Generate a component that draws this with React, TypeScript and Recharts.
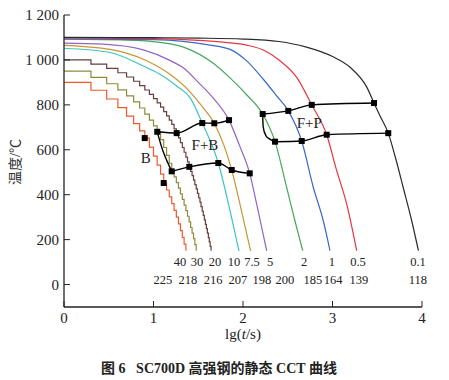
import React from 'react';
import { ComposedChart, Line, Scatter, XAxis, YAxis } from 'recharts';

// lg(t) of the 1 s sampling steps seen on the fast cooling curves
const stepLg = [
    0, 0.301, 0.477, 0.602, 0.699, 0.778, 0.845, 0.903, 0.954, 1.0, 1.041, 1.079, 1.114, 1.146, 1.176,
    1.204, 1.23, 1.255, 1.279, 1.301, 1.322, 1.342, 1.362, 1.38, 1.398, 1.415, 1.431, 1.447, 1.462, 1.477,
    1.491, 1.505, 1.519, 1.531, 1.544, 1.556, 1.568, 1.58, 1.591, 1.602, 1.613, 1.623, 1.633, 1.643,
];

// stepped curves (40, 30, 20 ℃/s)
const temp40 = [
    900, 865, 826, 788, 750, 716, 684, 652, 612, 572, 532, 492, 452, 421, 390, 360, 330, 300, 270, 240,
    210, 180, 150,
];
const temp30 = [
    950, 922, 894, 867, 840, 813, 786, 759, 732, 706, 680, 645, 610, 575, 540, 504, 479, 454, 429, 404,
    379, 354, 329, 304, 279, 254, 229, 204, 178, 150,
];
const temp20 = [
    1000, 981, 962, 943, 924, 905, 886, 866, 847, 828, 809, 790, 770, 751, 732, 713, 693, 674, 653, 632,
    610, 589, 567, 546, 524, 504, 485, 465, 445, 426, 406, 386, 367, 347, 327, 308, 288, 268, 249, 229,
    209, 190, 170, 150,
];

// smooth curves
const lg10 = [0, 0.514, 0.886, 1.073, 1.259, 1.408, 1.545, 1.724, 1.855, 1.955];
const temp10 = [1052, 1033, 973, 936, 884, 832, 719, 541, 329, 150];
const lg7_5 = [0, 0.514, 0.886, 1.184, 1.408, 1.55, 1.679, 1.874, 1.966, 2.085];
const temp7_5 = [1065, 1047, 1003, 936, 858, 790, 718, 510, 358, 150];
const lg5 = [0, 0.44, 0.886, 1.184, 1.35, 1.5, 1.668, 1.844, 1.96, 2.075, 2.153, 2.265];
const temp5 = [1075, 1070, 1045, 998, 960, 900, 830, 732, 620, 495, 358, 150];
const lg2 = [0, 0.7, 1.07, 1.35, 1.668, 1.855, 2.041, 2.22, 2.358, 2.488, 2.58, 2.667];
const temp2 = [1092, 1088, 1078, 1055, 985, 920, 845, 759, 636, 432, 284, 151];
const lg1 = [0, 1.0, 1.3, 1.6, 1.855, 2.041, 2.227, 2.376, 2.506, 2.656, 2.786, 2.897, 2.972];
const temp1 = [1094, 1090, 1084, 1068, 1047, 996, 914, 840, 773, 639, 432, 284, 151];
const lg0_5 = [0, 1.0, 1.5, 1.8, 2.04, 2.25, 2.413, 2.6, 2.768, 2.935, 3.047, 3.159, 3.27];
const temp0_5 = [1098, 1095, 1087, 1078, 1066, 1040, 996, 922, 800, 667, 507, 358, 151];
const lg0_1 = [0, 1.0, 1.5, 2.0, 2.4, 2.7, 3.0, 3.2, 3.38, 3.464, 3.53, 3.623, 3.7, 3.79, 3.885, 3.96];
const temp0_1 = [1100, 1099, 1097, 1093, 1082, 1058, 1015, 966, 881, 808, 751, 674, 570, 432, 284, 151];

// transformation lines
const fbTopLg = [1.042, 1.259, 1.545, 1.679, 1.844];
const fbTopT = [680, 674, 719, 718, 732];
const fbLowLg = [1.203, 1.4, 1.724, 1.874, 2.075];
const fbLowT = [504, 524, 541, 510, 495];
const fbLeftLg = [1.042, 1.11, 1.203];
const fbLeftT = [680, 590, 504];
const fpTopLg = [2.22, 2.506, 2.768, 3.464];
const fpTopT = [759, 773, 800, 808];
const fpLowLg = [2.358, 2.656, 2.935, 3.623];
const fpLowT = [636, 639, 667, 674];
const fpLeftLg = [2.22, 2.225, 2.26, 2.358];
const fpLeftT = [759, 705, 660, 636];
const bLg = [0.902, 1.114];
const bT = [652, 452];

// labels
const rateNames = ['40', '30', '20', '10', '7.5', '5', '2', '1', '0.5', '0.1'];
const rateLg = [1.296, 1.486, 1.687, 1.899, 2.101, 2.302, 2.682, 2.994, 3.285, 3.955];
const hvNames = ['225', '218', '216', '207', '198', '200', '185', '164', '139', '118'];
const hvLg = [1.106, 1.385, 1.665, 1.944, 2.212, 2.469, 2.782, 3.006, 3.296, 3.955];
const zoneNames = ['B', 'F+B', 'F+P'];
const zoneLg = [0.913, 1.575, 2.741];
const zoneT = [564, 622, 719];

const xTicks = [0, 1, 2, 3, 4];
const yTicks = [0, 200, 400, 600, 800, 1000, 1200];

const pts = (xs: number[], ys: number[]) => ys.map((y, i) => ({ x: xs[i], y }));

const SERIF = '"Liberation Serif", "Times New Roman", serif';

const SquareDot = (props: any) => {
    const { cx, cy, index } = props;
    if (cx == null || cy == null) return null;
    return <rect key={index} x={cx - 3} y={cy - 3} width={6} height={6} fill="#000" />;
};

const textShape = (size: number) => (props: any) => (
    <text
        x={props.cx}
        y={props.cy}
        textAnchor="middle"
        dominantBaseline="central"
        fontSize={size}
        fontFamily={SERIF}
        fill="#222"
    >
        {props.payload.label}
    </text>
);

const fmtY = (v: number) => (v >= 1000 ? `${Math.floor(v / 1000)} ${String(v % 1000).padStart(3, '0')}` : `${v}`);

const curves = [
    { data: pts(stepLg, temp40), color: '#f0582c', type: 'stepAfter' },
    { data: pts(stepLg, temp30), color: '#8d8c3a', type: 'stepAfter' },
    { data: pts(stepLg, temp20), color: '#6a3c3c', type: 'stepAfter' },
    { data: pts(lg10, temp10), color: '#3cc4c4', type: 'monotone' },
    { data: pts(lg7_5, temp7_5), color: '#c99530', type: 'monotone' },
    { data: pts(lg5, temp5), color: '#9364c6', type: 'monotone' },
    { data: pts(lg2, temp2), color: '#46a85a', type: 'monotone' },
    { data: pts(lg1, temp1), color: '#3a68c8', type: 'monotone' },
    { data: pts(lg0_5, temp0_5), color: '#e8353d', type: 'monotone' },
    { data: pts(lg0_1, temp0_1), color: '#2a2a2a', type: 'monotone' },
];

const App: React.FC = () => {
    return (
        <div style={{ position: 'absolute', left: 0, top: 0, width: 449, height: 380, background: '#fff' }}>
            <ComposedChart width={449} height={337} margin={{ top: 15, right: 27, bottom: 0, left: 0 }}>
                <XAxis
                    type="number"
                    dataKey="x"
                    domain={[0, 4]}
                    ticks={xTicks}
                    height={30}
                    tickSize={-6}
                    tickMargin={11}
                    stroke="#222"
                    axisLine={{ stroke: '#222', strokeWidth: 1.3 }}
                    tick={{ fill: '#222', fontSize: 15, fontFamily: SERIF }}
                />
                <YAxis
                    type="number"
                    domain={[-100, 1200]}
                    ticks={yTicks}
                    width={64}
                    tickSize={-6}
                    tickMargin={11}
                    stroke="#222"
                    axisLine={{ stroke: '#222', strokeWidth: 1.3 }}
                    tick={{ fill: '#222', fontSize: 15, fontFamily: SERIF }}
                    tickFormatter={fmtY}
                />
                {curves.map((c, i) => (
                    <Line
                        key={i}
                        data={c.data}
                        dataKey="y"
                        type={c.type as any}
                        stroke={c.color}
                        strokeWidth={1.2}
                        dot={false}
                        isAnimationActive={false}
                    />
                ))}
                <Line data={pts(fbLeftLg, fbLeftT)} dataKey="y" type="monotoneY" stroke="#000" strokeWidth={1.4} dot={false} isAnimationActive={false} />
                <Line data={pts(fpLeftLg, fpLeftT)} dataKey="y" type="monotoneY" stroke="#000" strokeWidth={1.4} dot={false} isAnimationActive={false} />
                <Line data={pts(fbTopLg, fbTopT)} dataKey="y" type="monotone" stroke="#000" strokeWidth={1.4} dot={<SquareDot />} isAnimationActive={false} />
                <Line data={pts(fbLowLg, fbLowT)} dataKey="y" type="monotone" stroke="#000" strokeWidth={1.4} dot={<SquareDot />} isAnimationActive={false} />
                <Line data={pts(fpTopLg, fpTopT)} dataKey="y" type="monotone" stroke="#000" strokeWidth={1.4} dot={<SquareDot />} isAnimationActive={false} />
                <Line data={pts(fpLowLg, fpLowT)} dataKey="y" type="monotone" stroke="#000" strokeWidth={1.4} dot={<SquareDot />} isAnimationActive={false} />
                <Line data={pts(bLg, bT)} dataKey="y" stroke="none" dot={<SquareDot />} isAnimationActive={false} />
                <Scatter
                    data={rateNames.map((label, i) => ({ x: rateLg[i], y: 99, label }))}
                    dataKey="y"
                    shape={textShape(12.5)}
                    isAnimationActive={false}
                />
                <Scatter
                    data={hvNames.map((label, i) => ({ x: hvLg[i], y: 22, label }))}
                    dataKey="y"
                    shape={textShape(12.5)}
                    isAnimationActive={false}
                />
                <Scatter
                    data={zoneNames.map((label, i) => ({ x: zoneLg[i], y: zoneT[i], label }))}
                    dataKey="y"
                    shape={textShape(15)}
                    isAnimationActive={false}
                />
            </ComposedChart>
            <div
                style={{
                    position: 'absolute',
                    left: 243,
                    top: 334,
                    transform: 'translate(-50%, -50%)',
                    fontFamily: SERIF,
                    fontSize: 15,
                    color: '#222',
                    whiteSpace: 'nowrap',
                }}
            >
                lg(<i>t</i>/s)
            </div>
            <div
                style={{
                    position: 'absolute',
                    left: 14,
                    top: 162,
                    transform: 'translate(-50%, -50%) rotate(-90deg)',
                    fontFamily: '"Liberation Serif", "Noto Sans CJK SC", serif',
                    fontSize: 14,
                    color: '#333',
                    whiteSpace: 'nowrap',
                }}
            >
                温度/℃
            </div>
            <div
                style={{
                    position: 'absolute',
                    left: 219,
                    top: 367,
                    transform: 'translate(-50%, -50%)',
                    fontFamily: '"Liberation Serif", "Noto Sans CJK SC", serif',
                    fontSize: 14,
                    fontWeight: 'bold',
                    color: '#222',
                    whiteSpace: 'pre',
                }}
            >
                {'图 6   SC700D 高强钢的静态 CCT 曲线'}
            </div>
        </div>
    );
};

export default App;
